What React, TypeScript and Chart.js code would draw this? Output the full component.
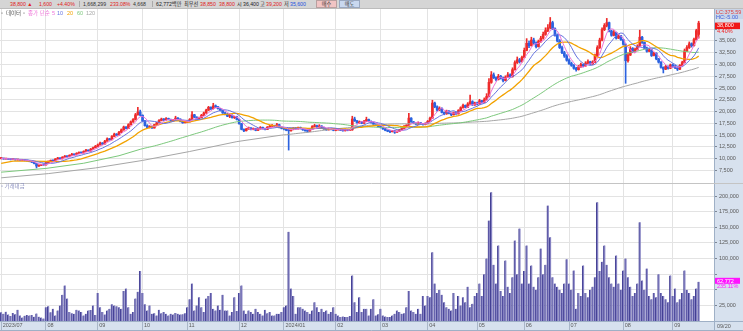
import React, { useEffect, useRef } from 'react';
import { Chart, registerables } from 'chart.js';

Chart.register(...registerables);

// ---------- data ----------
const monthLabels = ['2023/07', '08', '09', '10', '11', '12', '2024/01', '02', '03', '04', '05', '06', '07', '08', '09'];
const monthDays = [19, 22, 19, 19, 22, 19, 22, 19, 20, 21, 20, 19, 23, 21, 12];
const PAD_SLOTS = 6;
const lastDateLabel = '09/20';

// [open, high, low, close]
type Candle = [number, number, number, number];
const candles: Candle[] = [
  // 2023/07
  [10000, 10250, 9900, 10050], [10050, 10100, 9850, 9900], [9900, 10050, 9850, 9980], [9980, 10000, 9800, 9850],
  [9850, 9900, 9700, 9780], [9780, 9900, 9750, 9820], [9820, 9850, 9650, 9700], [9700, 9800, 9650, 9750],
  [9750, 9780, 9580, 9620], [9620, 9720, 9600, 9680], [9680, 9700, 9500, 9550], [9550, 9600, 9420, 9480],
  [9480, 9500, 9300, 9350], [9350, 9400, 9150, 9200], [9200, 9250, 8850, 8950], [8950, 9000, 7990, 8400],
  [8400, 8650, 8300, 8550], [8550, 8800, 8500, 8700], [8700, 8800, 8550, 8650],
  // 08
  [8650, 9200, 8600, 9100], [9100, 9500, 9050, 9400], [9400, 9700, 9350, 9600], [9600, 9650, 9400, 9500],
  [9500, 10000, 9450, 9900], [9900, 10250, 9850, 10100], [10100, 10150, 9900, 9950], [9950, 10400, 9900, 10300],
  [10300, 10650, 10250, 10500], [10500, 10550, 10300, 10400], [10400, 10800, 10350, 10700], [10700, 11100, 10650, 10900],
  [10900, 10950, 10700, 10800], [10800, 11250, 10750, 11100], [11100, 11450, 11050, 11300], [11300, 11350, 11100, 11200],
  [11200, 11650, 11150, 11500], [11500, 11950, 11450, 11800], [11800, 11850, 11500, 11600], [11600, 12150, 11550, 12000],
  [12000, 12450, 11950, 12300], [12300, 12800, 12250, 12600],
  // 09
  [12600, 13100, 12500, 12900], [12900, 13500, 12850, 13300], [13300, 13400, 13000, 13100], [13100, 13900, 13050, 13700],
  [13700, 14400, 13650, 14200], [14200, 14300, 13900, 14000], [14000, 14900, 13950, 14700], [14700, 15400, 14650, 15200],
  [15200, 15300, 14900, 15000], [15000, 15800, 14950, 15600], [15600, 16300, 15500, 16100], [16100, 16900, 16000, 16700],
  [16700, 16800, 16300, 16400], [16400, 17400, 16350, 17200], [17200, 18000, 17100, 17800], [17800, 18500, 17700, 18300],
  [18300, 19600, 18200, 19300], [19300, 20900, 19200, 19900], [19900, 20300, 19100, 19200],
  // 10
  [19200, 19300, 17800, 18000], [18000, 18100, 16900, 17000], [17000, 17200, 16500, 16600], [16600, 17000, 16500, 16800],
  [16800, 16900, 16400, 16500], [16500, 17300, 16450, 17200], [17200, 17700, 17100, 17600], [17600, 18300, 17500, 18100],
  [18100, 18600, 18000, 18400], [18400, 18500, 18100, 18200], [18200, 18700, 18150, 18500], [18500, 18600, 18200, 18300],
  [18300, 18400, 17900, 18000], [18000, 18300, 17950, 18200], [18200, 19000, 18150, 18600], [18600, 18700, 18300, 18400],
  [18400, 18450, 17800, 17900], [17900, 18000, 17500, 17600], [17600, 17900, 17550, 17800],
  // 11
  [17700, 18000, 17600, 17800], [17800, 18500, 17750, 18300], [18300, 20000, 18250, 19300], [19300, 19400, 18700, 18800],
  [18800, 18900, 18400, 18500], [18500, 18800, 18400, 18700], [18700, 19400, 18650, 19200], [19200, 19900, 19100, 19700],
  [19700, 20500, 19600, 20300], [20300, 21100, 20200, 20900], [20900, 21000, 20400, 20600], [20600, 21750, 20500, 21200],
  [21200, 21400, 20800, 21000], [21000, 21100, 20500, 20600], [20600, 20700, 20100, 20200], [20200, 20300, 19600, 19700],
  [19700, 19900, 19300, 19400], [19400, 19600, 18900, 19000], [19000, 19400, 18700, 19200], [19200, 19300, 18600, 18700],
  [18700, 19000, 18500, 18900], [18900, 19000, 18200, 18300],
  // 12
  [18300, 18400, 17300, 17400], [17400, 17500, 16100, 16200], [16200, 16300, 15700, 15900], [15900, 16400, 15850, 16300],
  [16300, 16700, 16200, 16500], [16500, 16600, 16100, 16200], [16200, 16500, 16100, 16400], [16400, 16450, 15900, 16000],
  [16000, 16400, 15950, 16300], [16300, 16800, 16250, 16600], [16600, 16700, 16300, 16400], [16400, 16500, 16100, 16200],
  [16200, 16800, 16150, 16700], [16700, 17100, 16650, 16900], [16900, 17200, 16800, 17000], [17000, 17100, 16700, 16800],
  [16800, 17500, 16750, 17200], [17200, 17300, 16500, 16600], [16600, 16700, 16300, 16400],
  // 2024/01
  [16400, 16600, 16100, 16300], [16300, 16400, 15900, 16000], [16000, 16300, 11800, 15900], [15900, 16300, 15800, 16200],
  [16200, 16600, 16100, 16500], [16500, 16600, 16200, 16300], [16300, 16700, 16250, 16600], [16600, 16700, 16300, 16400],
  [16400, 16450, 16000, 16100], [16100, 16200, 15800, 15900], [15900, 16000, 15600, 15800], [15800, 16300, 15750, 16200],
  [16200, 17000, 16150, 16800], [16800, 17300, 16700, 17000], [17000, 17100, 16600, 16700], [16700, 17200, 16650, 16900],
  [16900, 17000, 16500, 16600], [16600, 16700, 16200, 16300], [16300, 16400, 16000, 16100], [16100, 16500, 16050, 16400],
  [16400, 16500, 16100, 16200], [16200, 16300, 15900, 16000],
  // 02
  [16000, 16200, 15900, 16100], [16100, 16400, 16050, 16300], [16300, 16350, 15950, 16000], [16000, 16100, 15800, 15900],
  [15900, 16300, 15850, 16200], [16200, 16250, 15900, 16000], [16000, 16200, 15950, 16100], [16100, 19000, 16000, 18400],
  [18400, 18800, 17900, 18000], [18000, 18100, 17500, 17600], [17600, 18000, 17500, 17800], [17800, 17900, 17400, 17500],
  [17500, 18100, 17450, 17900], [17900, 18800, 17850, 18300], [18300, 18400, 17800, 17900], [17900, 18000, 17500, 17600],
  [17600, 17700, 17200, 17300], [17300, 17400, 17000, 17100], [17100, 17200, 16700, 16800],
  // 03
  [16800, 16900, 16500, 16600], [16600, 16700, 16200, 16300], [16300, 16400, 15900, 16000], [16000, 16100, 15700, 15800],
  [15800, 15900, 15500, 15700], [15700, 16000, 15650, 15900], [15900, 15950, 15350, 15600], [15600, 15900, 15550, 15800],
  [15800, 16200, 15750, 16100], [16100, 16500, 16050, 16400], [16400, 17000, 16350, 16900], [16900, 17200, 16800, 17000],
  [17000, 19600, 16950, 18600], [18600, 18700, 17700, 17800], [17800, 17900, 17400, 17500], [17500, 17600, 17200, 17300],
  [17300, 17800, 17250, 17600], [17600, 17700, 17300, 17400], [17400, 17500, 17100, 17200], [17200, 17600, 17150, 17500],
  // 04
  [17500, 18100, 17400, 17900], [17900, 18800, 17850, 18600], [18600, 22400, 18500, 21800], [21800, 22000, 20800, 21000],
  [21000, 21200, 20100, 20300], [20300, 21000, 20200, 20700], [20700, 20800, 19700, 19800], [19800, 19900, 19300, 19500],
  [19500, 20300, 19400, 20100], [20100, 20200, 19500, 19600], [19600, 19700, 19100, 19300], [19300, 19900, 19250, 19800],
  [19800, 19900, 19400, 19500], [19500, 20400, 19450, 20200], [20200, 21000, 20100, 20800], [20800, 21600, 20700, 21300],
  [21300, 21400, 20800, 20900], [20900, 21900, 20850, 21600], [21600, 23500, 21500, 22100], [22100, 22300, 21300, 21400],
  [21400, 22000, 21300, 21800],
  // 05
  [21800, 22000, 21400, 21600], [21600, 22600, 21550, 22300], [22300, 22400, 21800, 21900], [21900, 22900, 21850, 22500],
  [22500, 23800, 22400, 23200], [23200, 27000, 23100, 26200], [26200, 28500, 26000, 27800], [27800, 28200, 27000, 27200],
  [27200, 27400, 26500, 26800], [26800, 27900, 26700, 27500], [27500, 27700, 26900, 27100], [27100, 27300, 26300, 26600],
  [26600, 27600, 26500, 27300], [27300, 28300, 27200, 27800], [27800, 28000, 27200, 27400], [27400, 29300, 27300, 28900],
  [28900, 30800, 28800, 30400], [30400, 31600, 30200, 31000], [31000, 31300, 30300, 30600], [30600, 31800, 30500, 31500],
  // 06
  [31500, 33500, 31400, 33000], [33000, 35500, 32900, 34500], [34500, 35000, 33600, 34000], [34000, 35800, 33900, 35200],
  [35200, 35600, 34300, 34600], [34600, 34800, 33500, 33800], [33800, 35200, 33700, 34900], [34900, 36000, 34700, 35600],
  [35600, 36900, 35400, 36400], [36400, 37800, 36200, 37200], [37200, 38500, 37000, 37800], [37800, 40000, 37600, 38900],
  [38900, 39200, 37400, 37600], [37600, 37800, 36000, 36200], [36200, 36500, 34800, 35000], [35000, 35300, 33400, 33600],
  [33600, 33900, 32300, 32500], [32500, 32800, 31500, 31800], [31800, 32100, 30700, 30900],
  // 07
  [30900, 31200, 30000, 30200], [30200, 30500, 29600, 29800], [29800, 30000, 29000, 29200], [29200, 29400, 28600, 28900],
  [28900, 29800, 28800, 29500], [29500, 30300, 29400, 30000], [30000, 30100, 29500, 29700], [29700, 30600, 29600, 30300],
  [30300, 31000, 30200, 30600], [30600, 30700, 29900, 30100], [30100, 30800, 30000, 30500], [30500, 32200, 30400, 31800],
  [31800, 34000, 31700, 33600], [33600, 35600, 33400, 35200], [35200, 37800, 35000, 37400], [37400, 38700, 37200, 38300],
  [38300, 39800, 38000, 38900], [38900, 39000, 36900, 37100], [37100, 37300, 36000, 36200], [36200, 37200, 36100, 36800],
  [36800, 36900, 35400, 35600], [35600, 36400, 35500, 36100], [36100, 36200, 35100, 35300],
  // 08
  [35300, 35400, 34100, 34300], [34300, 34400, 26000, 30800], [30800, 32500, 30500, 32000], [32000, 33800, 31900, 33400],
  [33400, 33600, 32500, 32700], [32700, 33500, 32600, 33200], [33200, 34200, 33100, 33900], [33900, 37300, 33800, 35800],
  [35800, 36000, 34500, 34700], [34700, 34800, 33300, 33500], [33500, 33700, 32600, 32800], [32800, 33400, 32700, 33100],
  [33100, 33200, 31700, 31900], [31900, 32600, 31800, 32400], [32400, 32500, 31000, 31200], [31200, 31300, 30300, 30500],
  [30500, 30600, 29200, 29400], [29400, 29500, 28200, 29000], [29000, 29800, 28900, 29600], [29600, 29700, 29000, 29200],
  [29200, 30100, 29100, 29900],
  // 09
  [29900, 30100, 29400, 29600], [29600, 29800, 29100, 29300], [29300, 29500, 28700, 29000], [29000, 30000, 28900, 29800],
  [29800, 30700, 29700, 30400], [30400, 33300, 30300, 32900], [32900, 34000, 32700, 33600], [33600, 34800, 33400, 34400],
  [34400, 34600, 33700, 34000], [34000, 35600, 33900, 35300], [35300, 37500, 35200, 37200], [36400, 39200, 35600, 38800],
];

// 거래대금 (million KRW)
const tradeValue: number[] = [
  14000, 11500, 15000, 10500, 8000, 13000, 11000, 18000, 9000, 5500, 8500, 9500, 9000, 9500, 7000, 12000, 7000, 5500, 4000,
  22000, 23500, 14000, 19500, 9000, 17000, 25000, 42000, 57000, 36000, 14500, 12500, 11500, 18000, 17000, 14500, 9000, 11500, 17000, 17500, 25000, 9500,
  45000, 22000, 14500, 10500, 17000, 19500, 27000, 25000, 23500, 22000, 19500, 48000, 52000, 22000, 11500, 14500, 36000, 47000, 80000,
  45000, 27000, 17000, 25000, 11500, 12500, 9000, 18000, 12500, 14500, 11500, 9000, 11500, 10500, 13000, 11500, 10500, 11000, 12500,
  22000, 35000, 60000, 17000, 25000, 38000, 22000, 14500, 36000, 40000, 45000, 19500, 17000, 25000, 18000, 42000, 17000, 17000, 9000, 14500, 38000, 16000,
  45000, 57000, 17000, 11500, 17000, 14500, 11500, 19500, 14500, 11500, 9000, 18000, 12500, 14500, 9000, 9000, 11500, 11500, 14500,
  22000, 25000, 143000, 52000, 40000, 11500, 22000, 22000, 19500, 17000, 14500, 11500, 17000, 30000, 22000, 14500, 19500, 14500, 17000, 11500, 14500, 22000,
  11500, 9000, 6300, 7400, 6300, 6300, 8000, 73000, 30000, 14500, 38000, 14500, 19500, 19500, 9000, 19500, 35000, 9000, 11000,
  19500, 9000, 7400, 6300, 6300, 9000, 11500, 17000, 14500, 11500, 12500, 22000, 48000, 17000, 14500, 11500, 19500, 11500, 40000, 25000,
  40000, 38000, 110000, 60000, 45000, 50000, 42000, 30000, 22000, 19500, 17000, 45000, 19500, 40000, 25000, 38000, 30000, 55000, 22000, 27500, 40000,
  45000, 60000, 40000, 75000, 100000, 161000, 206000, 90000, 60000, 121000, 48000, 40000, 97000, 55000, 45000, 70000, 129000, 75000, 148000, 60000,
  80000, 121000, 60000, 89000, 55000, 50000, 70000, 116000, 75000, 90000, 185000, 134000, 70000, 60000, 55000, 50000, 45000, 60000, 99000,
  60000, 50000, 81000, 19700, 45000, 40000, 89000, 45000, 38000, 50000, 55000, 70000, 190000, 80000, 95000, 121000, 90000, 70000, 60000, 55000, 105000, 60000, 50000,
  81000, 100000, 70000, 55000, 40000, 45000, 60000, 158000, 65000, 50000, 84000, 40000, 35000, 45000, 38000, 75000, 45000, 40000, 35000, 30000, 73000,
  40000, 52000, 30000, 35000, 45000, 81000, 50000, 45000, 35000, 40000, 52000, 62772,
];

const ma20Early: [number, number][] = [[0, 8950], [5, 9450], [12, 9450]];
const ma60Early: [number, number][] = [[0, 7100], [19, 7900], [35, 9000], [50, 10600]];
const ma120Early: [number, number][] = [[0, 5900], [20, 6800], [40, 8000], [60, 9600], [80, 11500], [100, 13600]];

const priceTicks = [7500, 10000, 12500, 15000, 17500, 20000, 22500, 25000, 27500, 30000, 32500, 35000, 37500];
const volumeTicks = [25000, 50000, 75000, 100000, 125000, 150000, 175000, 200000];
const PRICE_MIN = 4800;
const PRICE_MAX = 41800;
const VOL_MAX = 221000;

const lastClose = candles[candles.length - 1][3];
const lastValue = tradeValue[tradeValue.length - 1];
const changePctText = '4.40%';
const valuePctText = '235.11%';

// ---------- styling ----------
const FONT = "'Liberation Sans', 'DejaVu Sans', 'Noto Sans CJK KR', sans-serif";
const UP = '#ee2b2b';
const DOWN = '#2b62e0';
const AXIS_BG = '#d7e1ee';
const AXIS_LINE = '#9fb0c6';
const GRID = '#e3e3e3';
const TICK_TXT = '#5a5a5a';
const MA_COLORS = { m5: '#ee72d8', m10: '#6674e0', m20: '#f2a200', m60: '#7cc87c', m120: '#a6a6a6' };

// ---------- derived ----------
const dayLabels: string[] = [];
const monthStart = new Map<number, string>();
monthLabels.forEach((m, mi) => {
  for (let d = 0; d < monthDays[mi]; d++) {
    if (d === 0) monthStart.set(dayLabels.length, m);
    dayLabels.push(`${mi}-${d + 1}`);
  }
});
for (let k = 0; k < PAD_SLOTS; k++) dayLabels.push(`pad-${k}`);

const closes = candles.map((c) => c[3]);
function movingAverage(n: number, early: [number, number][] | null): (number | null)[] {
  const out: (number | null)[] = closes.map(() => null);
  for (let i = 0; i < closes.length; i++) {
    if (i < n - 1 && early) continue;
    const s = Math.max(0, i - n + 1);
    let sum = 0;
    for (let k = s; k <= i; k++) sum += closes[k];
    out[i] = sum / (i - s + 1);
  }
  if (early) early.forEach(([i, v]) => { out[i] = v; });
  return out;
}
const ma5 = movingAverage(5, null);
const ma10 = movingAverage(10, null);
const ma20 = movingAverage(20, ma20Early);
const ma60 = movingAverage(60, ma60Early);
const ma120 = movingAverage(120, ma120Early);

const candleColors = candles.map((c) => (c[3] >= c[0] ? UP : DOWN));
const fmt = (v: number) => Number(v).toLocaleString('en-US');

const xAxisCommon = (showLabels: boolean) => ({
  type: 'category' as const,
  labels: dayLabels,
  offset: true,
  display: true,
  border: { display: false },
  grid: {
    display: true,
    color: GRID,
    offset: false,
    drawTicks: showLabels,
    tickLength: 9,
    tickColor: '#a9b6c8',
    lineWidth: 1,
  },
  ticks: {
    display: showLabels,
    autoSkip: false,
    maxRotation: 0,
    align: 'start' as const,
    padding: -8,
    labelOffset: 1.5,
    color: TICK_TXT,
    font: { size: 5.5, family: FONT },
    callback: (v: any) => monthStart.get(Number(v)) ?? '',
  },
  afterBuildTicks: (scale: any) => {
    scale.ticks = scale.ticks.filter((t: any) => monthStart.has(t.value));
  },
  afterFit: (scale: any) => {
    scale.height = showLabels ? 10 : 0;
    scale.paddingLeft = 0;
    scale.paddingRight = 0;
  },
});

const yAxisCommon = (min: number, max: number, ticks: number[], hideNear: number, hideRange: number) => ({
  position: 'right' as const,
  min,
  max,
  border: { display: true, color: AXIS_LINE },
  grid: { color: GRID, tickLength: 3, tickColor: '#7d8795', drawTicks: true },
  ticks: {
    padding: 2,
    color: TICK_TXT,
    font: { size: 5.5, family: FONT },
    callback: (v: any) => (Math.abs(Number(v) - hideNear) < hideRange ? '' : fmt(Number(v))),
  },
  afterBuildTicks: (scale: any) => {
    scale.ticks = ticks.map((value) => ({ value }));
  },
  afterFit: (scale: any) => {
    scale.width = 29;
    scale.paddingTop = 0;
    scale.paddingBottom = 0;
  },
});

const pricePanePlugin = {
  id: 'pricePane',
  beforeDraw(chart: any) {
    const { ctx, chartArea: a, width, height } = chart;
    ctx.save();
    ctx.fillStyle = '#ffffff';
    ctx.fillRect(0, 0, width, height);
    ctx.fillStyle = AXIS_BG;
    ctx.fillRect(a.right, 0, width - a.right, height);
    ctx.fillStyle = '#c9d5e8';
    ctx.fillRect(a.right + 1, 0, width - a.right - 1, 10);
    ctx.restore();
  },
  afterDraw(chart: any) {
    const { ctx, chartArea: a, width } = chart;
    const y = chart.scales.y.getPixelForValue(lastClose);
    ctx.save();
    ctx.font = `5.5px ${FONT}`;
    ctx.textBaseline = 'middle';
    ctx.textAlign = 'left';
    ctx.fillStyle = '#e04040';
    ctx.fillText('LC:375.59', a.right + 2, 3.3);
    ctx.fillStyle = '#4060e0';
    ctx.fillText('HC:-5.00', a.right + 2, 8.6);
    ctx.fillStyle = '#f01818';
    ctx.fillRect(a.right + 1, y - 0.5, width - a.right - 4, 6.5);
    ctx.fillStyle = '#ffffff';
    ctx.fillText(fmt(lastClose), a.right + 3, y + 2.8);
    ctx.fillStyle = '#f02020';
    ctx.fillText(changePctText, a.right + 3, y + 8.8);
    ctx.restore();
  },
};

const volumePanePlugin = {
  id: 'volumePane',
  beforeDraw(chart: any) {
    const { ctx, chartArea: a, width, height } = chart;
    ctx.save();
    ctx.fillStyle = '#ffffff';
    ctx.fillRect(0, 0, width, height);
    ctx.fillStyle = AXIS_BG;
    ctx.fillRect(a.right, 0, width - a.right, height);
    ctx.fillRect(0, a.bottom, width, height - a.bottom);
    ctx.restore();
  },
  afterDraw(chart: any) {
    const { ctx, chartArea: a, width, height } = chart;
    ctx.save();
    ctx.strokeStyle = '#c4c4c4';
    ctx.lineWidth = 1;
    ctx.beginPath();
    ctx.moveTo(0, 0.5);
    ctx.lineTo(width, 0.5);
    ctx.stroke();
    ctx.strokeStyle = AXIS_LINE;
    ctx.beginPath();
    ctx.moveTo(0, a.bottom + 0.5);
    ctx.lineTo(width, a.bottom + 0.5);
    ctx.moveTo(a.right + 0.5, a.bottom);
    ctx.lineTo(a.right + 0.5, height);
    ctx.moveTo(0, height - 0.5);
    ctx.lineTo(width, height - 0.5);
    ctx.stroke();
    ctx.font = `5.5px ${FONT}`;
    ctx.textBaseline = 'middle';
    ctx.fillStyle = TICK_TXT;
    ctx.fillText(lastDateLabel, a.right + 3, a.bottom + 5);
    const y = chart.scales.y.getPixelForValue(lastValue);
    ctx.fillStyle = '#ff14ff';
    ctx.fillRect(a.right + 1, y - 4, width - a.right - 4, 6);
    ctx.fillStyle = '#ffffff';
    ctx.fillText(fmt(lastValue), a.right + 3, y - 0.8);
    ctx.fillStyle = '#ff22ff';
    ctx.fillText(valuePctText, a.right + 3, y + 5);
    ctx.restore();
  },
};

const lineDs = (label: string, data: (number | null)[], color: string, width = 1) => ({
  type: 'line' as const,
  label,
  data,
  borderColor: color,
  borderWidth: width,
  pointRadius: 0,
  tension: 0,
  spanGaps: true,
  order: 0,
});

const toolbarItems: { t: string; x: number; c: string }[] = [
  { t: '38,800 ▲', x: 10, c: '#e02020' },
  { t: '1,600', x: 39, c: '#e02020' },
  { t: '+4.40%', x: 57, c: '#e02020' },
  { t: '1,668,299', x: 83, c: '#333' },
  { t: '233.08%', x: 110, c: '#e02020' },
  { t: '4,668', x: 133, c: '#333' },
  { t: '62,772백만', x: 156, c: '#222' },
  { t: '최우선', x: 184, c: '#222' },
  { t: '38,850', x: 200, c: '#e02020' },
  { t: '38,800', x: 219, c: '#e02020' },
  { t: '시', x: 237, c: '#222' },
  { t: '36,400', x: 243, c: '#222' },
  { t: '고', x: 260, c: '#222' },
  { t: '39,200', x: 266, c: '#e02020' },
  { t: '저', x: 284, c: '#222' },
  { t: '35,600', x: 290, c: '#2050e0' },
];

const legendItems: { t: string; x: number; c: string }[] = [
  { t: '▫', x: 1, c: '#777' },
  { t: '데이터', x: 6, c: '#555' },
  { t: '▫', x: 23, c: '#777' },
  { t: '종가 단순', x: 28, c: MA_COLORS.m5 },
  { t: '5', x: 52, c: MA_COLORS.m5 },
  { t: '10', x: 57, c: MA_COLORS.m10 },
  { t: '20', x: 67, c: MA_COLORS.m20 },
  { t: '60', x: 77, c: MA_COLORS.m60 },
  { t: '120', x: 86, c: MA_COLORS.m120 },
];

export default function App() {
  const priceRef = useRef<HTMLCanvasElement>(null);
  const volRef = useRef<HTMLCanvasElement>(null);

  useEffect(() => {
    Chart.defaults.font.family = FONT;
    const priceChart = new Chart(priceRef.current as HTMLCanvasElement, {
      type: 'bar',
      data: {
        labels: dayLabels,
        datasets: [
          lineDs('MA5', ma5, MA_COLORS.m5),
          lineDs('MA10', ma10, MA_COLORS.m10),
          lineDs('MA20', ma20, MA_COLORS.m20, 1.3),
          lineDs('MA60', ma60, MA_COLORS.m60),
          lineDs('MA120', ma120, MA_COLORS.m120),
          {
            type: 'bar',
            label: 'wick',
            data: candles.map((c) => [c[2], c[1]]),
            backgroundColor: candleColors,
            barThickness: 1,
            grouped: false,
            order: 6,
          } as any,
          {
            type: 'bar',
            label: 'body',
            data: candles.map((c) => [Math.min(c[0], c[3]), Math.max(c[0], c[3])]),
            backgroundColor: candleColors,
            barThickness: 2,
            minBarLength: 1,
            grouped: false,
            order: 5,
          } as any,
        ],
      },
      options: {
        responsive: false,
        animation: false,
        devicePixelRatio: 1,
        layout: { padding: 0 },
        plugins: { legend: { display: false }, tooltip: { enabled: false } },
        scales: {
          x: xAxisCommon(false) as any,
          y: yAxisCommon(PRICE_MIN, PRICE_MAX, priceTicks, lastClose, 2000) as any,
        },
      },
      plugins: [pricePanePlugin],
    });

    const volChart = new Chart(volRef.current as HTMLCanvasElement, {
      type: 'bar',
      data: {
        labels: dayLabels,
        datasets: [
          {
            label: '거래대금',
            data: tradeValue,
            backgroundColor: '#8481c2',
            borderColor: '#433f94',
            borderWidth: { left: 1, right: 0, top: 0, bottom: 0 },
            borderSkipped: false,
            barThickness: 2,
          } as any,
        ],
      },
      options: {
        responsive: false,
        animation: false,
        devicePixelRatio: 1,
        layout: { padding: 0 },
        plugins: { legend: { display: false }, tooltip: { enabled: false } },
        scales: {
          x: xAxisCommon(true) as any,
          y: yAxisCommon(0, VOL_MAX, volumeTicks, lastValue, 20000) as any,
        },
      },
      plugins: [volumePanePlugin],
    });

    return () => {
      priceChart.destroy();
      volChart.destroy();
    };
  }, []);

  const small: React.CSSProperties = { position: 'absolute', fontSize: '5.2px', lineHeight: '9px', whiteSpace: 'nowrap', fontFamily: FONT };

  return (
    <div style={{ position: 'fixed', left: 0, top: 0, width: 743, height: 331, background: '#fff', overflow: 'hidden', fontFamily: FONT }}>
      <div style={{ position: 'absolute', left: 0, top: 0, width: 743, height: 9, background: '#d5d5d5', borderBottom: '1px solid #bcbcbc', boxSizing: 'border-box' }}>
        {toolbarItems.map((it, i) => (
          <span key={i} style={{ ...small, left: it.x, top: -0.5, color: it.c }}>{it.t}</span>
        ))}
        <span style={{ position: 'absolute', left: 79, top: 1, width: 1, height: 6, background: '#aaa' }} />
        <span style={{ position: 'absolute', left: 152, top: 1, width: 1, height: 6, background: '#aaa' }} />
        <span style={{ ...small, left: 316, top: 0, width: 21, height: 8, lineHeight: '7px', textAlign: 'center', background: '#f1c4c4', border: '1px solid #b9a0a0', boxSizing: 'border-box', color: '#333' }}>매수</span>
        <span style={{ ...small, left: 339, top: 0, width: 21, height: 8, lineHeight: '7px', textAlign: 'center', background: '#c9d8ef', border: '1px solid #9aa8c0', boxSizing: 'border-box', color: '#333' }}>매도</span>
      </div>
      <div style={{ position: 'absolute', left: 0, top: 9, width: 743, height: 174 }}>
        <canvas ref={priceRef} width={743} height={174} style={{ display: 'block' }} />
      </div>
      <div style={{ position: 'absolute', left: 0, top: 183, width: 743, height: 148 }}>
        <canvas ref={volRef} width={743} height={148} style={{ display: 'block' }} />
      </div>
      {legendItems.map((it, i) => (
        <span key={i} style={{ ...small, fontSize: '5.5px', left: it.x, top: 9, color: it.c }}>{it.t}</span>
      ))}
      <span style={{ ...small, fontSize: '5.5px', left: 1, top: 182, color: '#8a8fbf' }}>▫ 거래대금</span>
    </div>
  );
}
